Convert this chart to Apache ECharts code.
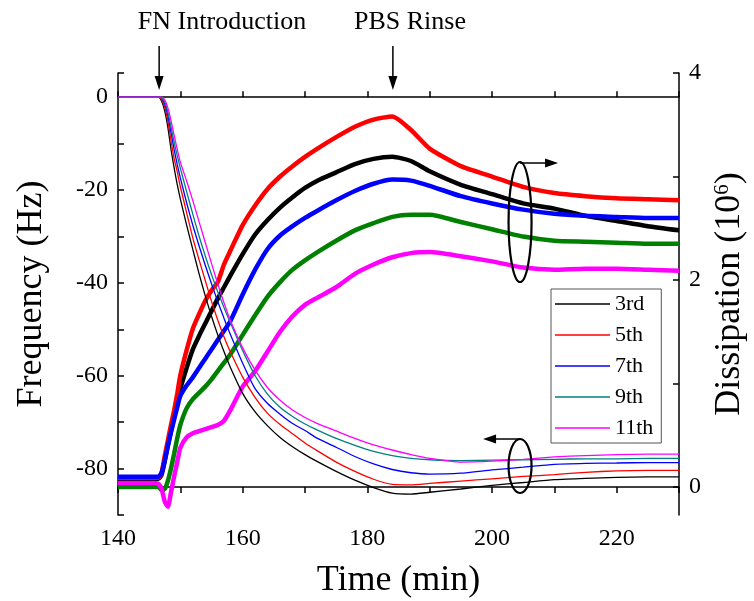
<!DOCTYPE html>
<html>
<head>
<meta charset="utf-8">
<script src="https://cdn.jsdelivr.net/npm/echarts@6/dist/echarts.min.js"></script>
<style>
    html, body { margin: 0; padding: 0; background: #fff; }
    #chart { width: 754px; height: 601px; }
</style>
</head>
<body>
<div id="chart"></div>
<script>
    // time axis (min), shared by all curves
    const times = [140, 143, 146, 146.5, 147, 147.5, 148, 148.5, 149, 149.5, 150, 151, 152, 153, 154, 155, 156, 157, 158,
        160, 162, 164, 166, 168, 170, 172, 175, 178, 181, 184, 187, 190, 195, 200, 205, 210, 215, 220, 225, 230];

    // frequency shift (Hz), left axis
    const freq3 = [0, 0, 0, 0, -0.9, -3, -6.5, -11.2, -15.2, -18.8, -21.9, -27.5, -32.8, -38, -42.8, -47.2, -51.2, -54.8, -58.1,
        -63.8, -67.8, -70.8, -73.3, -75.3, -77, -78.5, -80.6, -82.5, -84.1, -85.3, -85.5, -85.1, -84.4, -83.6, -83, -82.4, -82.1, -81.9, -81.8, -81.8];
    const freq5 = [0, 0, 0, 0, -0.5, -2.2, -5.2, -9.3, -13.2, -16, -19.3, -24.8, -30.3, -35, -39.5, -44, -48, -51.6, -54.8,
        -60.3, -64.7, -68.1, -70.5, -72.5, -74.5, -76.2, -78.6, -80.6, -82.3, -83.4, -83.5, -83.2, -82.7, -82.2, -81.7, -81.3, -80.8, -80.5, -80.4, -80.4];
    const freq7 = [0, 0, 0, 0, -0.2, -1.5, -4, -7.6, -11.2, -14.5, -17.4, -22.7, -27.6, -32, -36.2, -40.2, -44, -47.6, -51,
        -57.3, -62.8, -66, -68.3, -70.3, -71.8, -73.5, -75.4, -77.4, -79, -80.2, -80.9, -81.2, -81, -80.3, -79.7, -79.1, -78.9, -78.8, -78.7, -78.7];
    const freq9 = [0, 0, 0, 0, -0.1, -1, -3.2, -6.3, -9.7, -12.6, -15.3, -20.3, -25.2, -29.9, -34.2, -38.2, -41.9, -45.3, -48.5,
        -54.6, -60, -64, -66.8, -68.8, -70.4, -71.7, -73.5, -75, -76.3, -77.2, -77.8, -78.1, -78.3, -78.2, -78.1, -78, -77.9, -77.9, -77.8, -77.8];
    const freq11 = [0, 0, 0, 0, 0, -0.6, -2.3, -5, -8.2, -11.2, -14, -18, -22.3, -26.8, -31.3, -35.8, -40.2, -44.3, -48,
        -54, -58.8, -62.6, -65.3, -67.4, -69, -70.3, -71.9, -73.5, -74.9, -76, -77, -77.8, -78.6, -78.4, -78, -77.5, -77.2, -77, -76.9, -76.9];

    // dissipation (10^-6), right axis
    const dis3 = [0.08, 0.08, 0.08, 0.08, 0.12, 0.25, 0.4, 0.54, 0.68, 0.82, 0.95, 1.15, 1.33, 1.46, 1.58, 1.7, 1.82, 1.93, 2.04,
        2.25, 2.44, 2.58, 2.7, 2.8, 2.89, 2.96, 3.04, 3.12, 3.17, 3.19, 3.15, 3.05, 2.92, 2.83, 2.74, 2.69, 2.62, 2.57, 2.52, 2.48];
    const dis5 = [0.09, 0.09, 0.09, 0.09, 0.14, 0.3, 0.45, 0.6, 0.74, 0.9, 1.08, 1.32, 1.53, 1.67, 1.8, 1.9, 1.98, 2.15, 2.28,
        2.53, 2.72, 2.88, 3.0, 3.1, 3.19, 3.27, 3.38, 3.48, 3.55, 3.58, 3.45, 3.27, 3.1, 3.0, 2.9, 2.84, 2.81, 2.79, 2.78, 2.77];
    const dis7 = [0.1, 0.1, 0.1, 0.1, 0.14, 0.26, 0.4, 0.53, 0.65, 0.77, 0.88, 0.98, 1.06, 1.15, 1.24, 1.33, 1.42, 1.51, 1.6,
        1.86, 2.1, 2.3, 2.43, 2.52, 2.6, 2.67, 2.77, 2.86, 2.93, 2.97, 2.96, 2.91, 2.81, 2.74, 2.68, 2.64, 2.62, 2.61, 2.6, 2.6];
    const dis9 = [0, 0, 0, 0, -0.03, -0.02, 0.06, 0.18, 0.32, 0.47, 0.6, 0.76, 0.85, 0.91, 0.97, 1.04, 1.12, 1.2, 1.28,
        1.47, 1.66, 1.84, 1.98, 2.1, 2.19, 2.27, 2.38, 2.48, 2.55, 2.61, 2.63, 2.63, 2.56, 2.49, 2.42, 2.38, 2.37, 2.36, 2.35, 2.35];
    const dis11 = [0.04, 0.04, 0.04, 0.03, -0.02, -0.14, -0.19, -0.05, 0.1, 0.24, 0.38, 0.48, 0.52, 0.54, 0.56, 0.58, 0.6, 0.64, 0.74,
        0.97, 1.12, 1.31, 1.5, 1.65, 1.76, 1.83, 1.93, 2.06, 2.15, 2.22, 2.26, 2.27, 2.23, 2.18, 2.12, 2.1, 2.11, 2.11, 2.1, 2.09];

    const overtones = ['3rd', '5th', '7th', '9th', '11th'];
    const freqData = [freq3, freq5, freq7, freq9, freq11];
    const disData = [dis3, dis5, dis7, dis9, dis11];
    const freqColors = ['#000000', '#ff0000', '#0000ff', '#008080', '#ff00ff'];
    const disColors = ['#000000', '#ff0000', '#0000ff', '#008000', '#ff00ff'];

    const timeLabels = [140, 160, 180, 200, 220];
    const freqLabels = [0, -20, -40, -60, -80];
    const disTicks = [0, 1, 2, 3, 4];
    const disLabels = [0, 2, 4];

    const FONT = '"Liberation Serif", "Times New Roman", serif';

    var chart = echarts.init(document.getElementById('chart'));

    function pairs(ys) {
        return times.map(function (t, i) { return [t, ys[i]]; });
    }

    var series = [];
    // thick noisy dissipation curves
    disData.forEach(function (d, i) {
        series.push({
            name: 'D ' + overtones[i], type: 'line', yAxisIndex: 1, xAxisIndex: 0,
            data: pairs(d), symbol: 'none', smooth: 0.2, silent: true,
            lineStyle: {width: 4.5, color: disColors[i]}, z: 2
        });
    });
    // thin frequency curves
    freqData.forEach(function (f, i) {
        series.push({
            name: overtones[i], type: 'line', yAxisIndex: 0, xAxisIndex: 0,
            data: pairs(f), symbol: 'none', smooth: 0.2, silent: true,
            itemStyle: {color: freqColors[i]},
            lineStyle: {width: 1.3, color: freqColors[i]}, z: 3
        });
    });

    var axisLine = {show: true, lineStyle: {color: '#000', width: 1.5}};
    var tick = {show: true, inside: true, length: 6, lineStyle: {color: '#000', width: 1.5}};
    var label = {color: '#000', fontFamily: FONT, fontSize: 24};

    var option = {
        animation: false,
        backgroundColor: '#fff',
        grid: {left: 118, right: 75, top: 73, bottom: 86, outerBoundsMode: 'none', containLabel: false},
        legend: {
            data: overtones, orient: 'vertical', left: 551, top: 289,
            icon: 'rect', itemWidth: 55, itemHeight: 1.5, itemGap: 9, padding: [4, 8, 4, 4],
            borderColor: '#555', borderWidth: 1, backgroundColor: '#fff',
            textStyle: {color: '#000', fontFamily: FONT, fontSize: 22, lineHeight: 22}
        },
        xAxis: [{
            type: 'value', min: 140, max: 230, interval: 10, position: 'bottom',
            axisLine: axisLine, axisTick: tick, splitLine: {show: false},
            axisLabel: Object.assign({margin: 12, formatter: function (v) {
                return timeLabels.indexOf(v) >= 0 ? v : '';
            }}, label),
            name: 'Time (min)', nameLocation: 'middle', nameGap: 48,
            nameTextStyle: {color: '#000', fontFamily: FONT, fontSize: 36}
        }, {
            type: 'value', min: 140, max: 230, interval: 10, position: 'top',
            axisLine: axisLine, axisTick: tick, splitLine: {show: false}, axisLabel: {show: false}
        }],
        yAxis: [{
            type: 'value', min: -90, max: 5.2, interval: 10, position: 'left',
            axisLine: axisLine, axisTick: tick, splitLine: {show: false},
            axisLabel: Object.assign({margin: 10, formatter: function (v) {
                return freqLabels.indexOf(v) >= 0 ? v : '';
            }}, label),
            name: 'Frequency (Hz)', nameLocation: 'middle', nameGap: 68, nameRotate: 90,
            nameTextStyle: {color: '#000', fontFamily: FONT, fontSize: 36}
        }, {
            type: 'value', min: -0.27, max: 4, position: 'right',
            axisLine: axisLine, splitLine: {show: false},
            axisTick: Object.assign({customValues: disTicks}, tick),
            axisLabel: Object.assign({margin: 10, customValues: disLabels}, label),
            name: 'Dissipation (10{sup|6})', nameLocation: 'middle', nameGap: 30, nameRotate: 90,
            nameTextStyle: {
                color: '#000', fontFamily: FONT, fontSize: 36,
                rich: {sup: {fontFamily: FONT, fontSize: 21, color: '#000', verticalAlign: 'top', padding: [0, 0, 15, 0]}}
            }
        }],
        series: series
    };
    chart.setOption(option);

    // annotations: arrows, labels and ellipses
    function px(t) { return chart.convertToPixel({xAxisIndex: 0}, t); }
    var stroke = {stroke: '#000', lineWidth: 1.5};
    function downArrow(x) {
        return [
            {type: 'line', shape: {x1: x, y1: 46, x2: x, y2: 80}, style: stroke},
            {type: 'polygon', shape: {points: [[x - 4.5, 76], [x + 4.5, 76], [x, 90]]}, style: {fill: '#000'}}
        ];
    }
    function hArrow(x1, x2, y) {
        var dir = x2 > x1 ? 1 : -1;
        return [
            {type: 'line', shape: {x1: x1, y1: y, x2: x2 - dir * 8, y2: y}, style: stroke},
            {type: 'polygon', shape: {points: [[x2 - dir * 13, y - 4.5], [x2 - dir * 13, y + 4.5], [x2, y]]}, style: {fill: '#000'}}
        ];
    }
    var ex = px(204.5);
    var g = [].concat(
        downArrow(px(146.6)), downArrow(px(184.1)),
        [{type: 'text', x: 222, y: 22, style: {text: 'FN Introduction', font: '26px ' + FONT, fill: '#000', align: 'center', verticalAlign: 'middle'}},
         {type: 'text', x: 410, y: 22, style: {text: 'PBS Rinse', font: '26px ' + FONT, fill: '#000', align: 'center', verticalAlign: 'middle'}},
         {type: 'ellipse', shape: {cx: ex, cy: 222, rx: 11.5, ry: 60}, style: {fill: null, stroke: '#000', lineWidth: 2.2}},
         {type: 'ellipse', shape: {cx: ex, cy: 466, rx: 11.5, ry: 27}, style: {fill: null, stroke: '#000', lineWidth: 2.2}}],
        hArrow(ex, ex + 38, 163), hArrow(ex, ex - 37, 439)
    );
    chart.setOption({graphic: g.map(function (e) { e.z = 10; return e; })});
</script>
</body>
</html>
